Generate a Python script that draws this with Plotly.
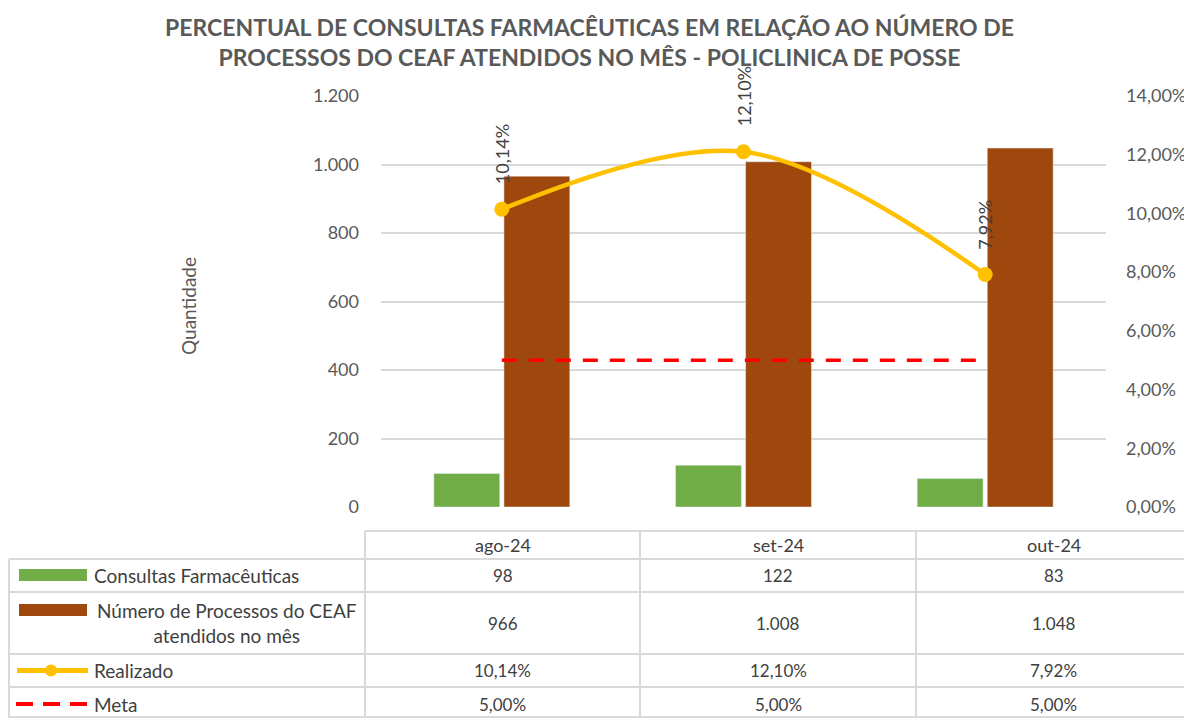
import plotly.graph_objects as go

# ---- data ----
categories = ["ago-24", "set-24", "out-24"]
consultas = [98, 122, 83]
processos = [966, 1008, 1048]
realizado = [0.1014, 0.1210, 0.0792]
meta = [0.05, 0.05, 0.05]

series_names = ["Consultas Farmacêuticas",
                "Número de Processos do CEAF<br>atendidos no mês",
                "Realizado", "Meta"]
left_ticks = [0, 200, 400, 600, 800, 1000, 1200]
right_ticks = [0, 0.02, 0.04, 0.06, 0.08, 0.10, 0.12, 0.14]

GREEN = "#70AD47"
BROWN = "#9E480E"
YELLOW = "#FFC000"
RED = "#FF0000"
GRID = "#D9D9D9"
TXT = "#595959"
DARK = "#404040"
FONT = "Lato"

# page has an 8px body margin; the figure is placed at (8, 8)
OFF = 8
W, H = 1192 - OFF, 718 - OFF
PL, PR, PT, PB = 381, 1106, 96, 507   # plot area in page pixels


def xp(px):
    return (px - PL) / (PR - PL)


def yp(py):
    return (PB - py) / (PB - PT)


def fmt_int(v):
    return f"{v:,}".replace(",", ".")


def fmt_pct(v):
    return f"{v*100:.2f}%".replace(".", ",")


fig = go.Figure()
fig.add_trace(go.Bar(x=categories, y=consultas, marker_color=GREEN,
                     name="Consultas", yaxis="y"))
fig.add_trace(go.Bar(x=categories, y=processos, marker_color=BROWN,
                     name="Processos", yaxis="y"))
fig.add_trace(go.Scatter(x=categories, y=meta, mode="lines", yaxis="y2",
                         line=dict(color=RED, width=3.5, dash="15px,12px")))
fig.add_trace(go.Scatter(x=categories, y=realizado, mode="lines+markers", yaxis="y2",
                         line=dict(color=YELLOW, width=4.5, shape="spline", smoothing=1),
                         marker=dict(color=YELLOW, size=15)))

annotations = []
# rotated data labels
for c, v in zip(categories, realizado):
    annotations.append(dict(x=c, y=v, xref="x", yref="y2", text=fmt_pct(v),
                            textangle=-90, showarrow=False, yanchor="bottom",
                            xanchor="center", yshift=23,
                            font=dict(family=FONT, size=18, color=DARK)))

# title
annotations.append(dict(xref="paper", yref="paper", x=xp(589), y=yp(42),
                        text="<b>PERCENTUAL DE CONSULTAS FARMACÊUTICAS EM RELAÇÃO AO NÚMERO DE<br>PROCESSOS DO CEAF ATENDIDOS NO MÊS - POLICLINICA DE POSSE</b>",
                        showarrow=False, xanchor="center", yanchor="middle",
                        font=dict(family=FONT, size=23, color=TXT)))
# y-axis title
annotations.append(dict(xref="paper", yref="paper", x=xp(188), y=yp(306),
                        text="Quantidade", textangle=-90, showarrow=False,
                        xanchor="center", yanchor="middle",
                        font=dict(family=FONT, size=19, color=TXT)))

# ---- data table ----
col_edges = [365, 640, 916, 1191]
col_centers = [(col_edges[i] + col_edges[i + 1]) / 2 for i in range(3)]
row_edges = [531, 559, 592, 654, 687, 717]
shapes = []
line_style = dict(color=GRID, width=2)
# horizontal lines
shapes.append(dict(type="line", xref="paper", yref="paper", x0=xp(365), x1=xp(1192),
                   y0=yp(row_edges[0]), y1=yp(row_edges[0]), line=line_style))
for r in row_edges[1:]:
    shapes.append(dict(type="line", xref="paper", yref="paper", x0=xp(9), x1=xp(1192),
                       y0=yp(r), y1=yp(r), line=line_style))
# vertical lines
shapes.append(dict(type="line", xref="paper", yref="paper", x0=xp(9), x1=xp(9),
                   y0=yp(row_edges[1]), y1=yp(718), line=line_style))
for cx in col_edges:
    shapes.append(dict(type="line", xref="paper", yref="paper", x0=xp(cx), x1=xp(cx),
                       y0=yp(row_edges[0]), y1=yp(718), line=line_style))

row_mid = [(row_edges[i] + row_edges[i + 1]) / 2 for i in range(len(row_edges) - 1)]
row_mid[-1] = 704
# header
for c, cx in zip(categories, col_centers):
    annotations.append(dict(xref="paper", yref="paper", x=xp(cx), y=yp(row_mid[0]),
                            text=c, showarrow=False, xanchor="center", yanchor="middle",
                            font=dict(family=FONT, size=18, color=DARK)))
rows_vals = [[fmt_int(v) for v in consultas], [fmt_int(v) for v in processos],
             [fmt_pct(v) for v in realizado], [fmt_pct(v) for v in meta]]
for ri, vals in enumerate(rows_vals):
    for v, cx in zip(vals, col_centers):
        annotations.append(dict(xref="paper", yref="paper", x=xp(cx), y=yp(row_mid[ri + 1]),
                                text=v, showarrow=False, xanchor="center", yanchor="middle",
                                font=dict(family=FONT, size=17, color=DARK)))
# series labels
for ri, name in enumerate(series_names):
    if ri == 1:
        annotations.append(dict(xref="paper", yref="paper", x=xp(227), y=yp(row_mid[2]),
                                text=name, showarrow=False, xanchor="center",
                                yanchor="middle", align="center",
                                font=dict(family=FONT, size=19, color=DARK)))
    else:
        annotations.append(dict(xref="paper", yref="paper", x=xp(92), y=yp(row_mid[ri + 1]),
                                text=name, showarrow=False, xanchor="left",
                                yanchor="middle",
                                font=dict(family=FONT, size=19, color=DARK)))
# legend keys
shapes.append(dict(type="rect", xref="paper", yref="paper", x0=xp(19), x1=xp(87),
                   y0=yp(581), y1=yp(569), fillcolor=GREEN, line=dict(width=0)))
shapes.append(dict(type="rect", xref="paper", yref="paper", x0=xp(19), x1=xp(87),
                   y0=yp(616), y1=yp(604), fillcolor=BROWN, line=dict(width=0)))
shapes.append(dict(type="line", xref="paper", yref="paper", x0=xp(17), x1=xp(88),
                   y0=yp(row_mid[3]), y1=yp(row_mid[3]),
                   line=dict(color=YELLOW, width=5)))
shapes.append(dict(type="circle", xref="paper", yref="paper", x0=xp(45), x1=xp(57),
                   y0=yp(row_mid[3] + 6), y1=yp(row_mid[3] - 6),
                   fillcolor=YELLOW, line=dict(width=0)))
shapes.append(dict(type="line", xref="paper", yref="paper", x0=xp(16), x1=xp(88),
                   y0=yp(row_mid[4]), y1=yp(row_mid[4]),
                   line=dict(color=RED, width=4, dash="17px,10px")))

fig.update_layout(
    width=W, height=H,
    margin=dict(l=PL - OFF, r=1192 - PR, t=PT - OFF, b=718 - PB),
    paper_bgcolor="white", plot_bgcolor="white",
    separators=",.",
    showlegend=False,
    hovermode=False,
    barmode="group", bargap=0.42, bargroupgap=0.06,
    font=dict(family=FONT, color=TXT),
    xaxis=dict(showticklabels=False, showgrid=False, zeroline=False, showline=False,
               ticks="", automargin=False),
    yaxis=dict(range=[0, 1200], tickvals=left_ticks, tickformat=",d",
               showgrid=True, gridcolor=GRID, gridwidth=1.5, zeroline=False,
               showline=False, ticks="", ticklabelstandoff=21, automargin=False,
               tickfont=dict(family=FONT, size=18, color=TXT)),
    yaxis2=dict(range=[0, 0.14], tickvals=right_ticks, tickformat=".2%",
                overlaying="y", side="right", showgrid=False, zeroline=False,
                showline=False, ticks="", ticklabelstandoff=19, automargin=False,
                tickfont=dict(family=FONT, size=18, color=TXT)),
    annotations=annotations,
    shapes=shapes,
)

fig.write_html("out.html", config={"displayModeBar": False, "responsive": False})
